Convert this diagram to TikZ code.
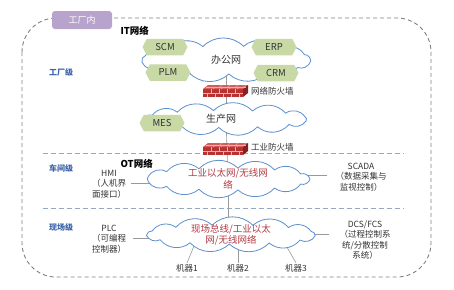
\documentclass[tikz,border=0pt]{standalone}
\usepackage{fontspec}
\setmainfont{Noto Sans CJK SC}
\usetikzlibrary{shapes.symbols,backgrounds}
\definecolor{cloudblue}{HTML}{5B8FCF}
\definecolor{hexgreen}{HTML}{C8D9A6}
\definecolor{txtgray}{HTML}{333333}
\definecolor{lvlblue}{HTML}{3D62A8}
\definecolor{dashblue}{HTML}{94A8C4}
\definecolor{bordergray}{HTML}{808080}
\definecolor{tagpurple}{HTML}{B8A3CC}
\definecolor{otred}{HTML}{B03A43}
\definecolor{fwfront}{HTML}{B83232}
\definecolor{fwtop}{HTML}{D65C5C}
\definecolor{fwside}{HTML}{8A1F1F}
\definecolor{fwmortar}{HTML}{EDB0B0}
\newcommand\drawnetcloud[5]{%
  \begin{scope}[shift={(#1,#2)}]
  \draw[cloudline] (#5:#3 and #4) \foreach \i in {1,...,13} { to[bend left=45] ({#5+\i*360/13}:#3 and #4) } -- cycle;
  \end{scope}}
\tikzset{
  cloudline/.style={draw=cloudblue, line width=0.8pt, fill=white},
  cloudtext/.style={inner sep=0pt, text=txtgray, font=\fontsize{10}{12}\selectfont, align=center},
  hexbox/.style={signal, signal to=west and east, signal pointer angle=125,
    minimum width=45pt, minimum height=16.5pt, inner sep=0pt, fill=hexgreen,
    text=txtgray, font=\fontsize{9.5}{10}\selectfont},
  desc/.style={text=txtgray, font=\fontsize{8.5}{10.5}\selectfont, align=center, inner sep=1pt},
  lvl/.style={text=lvlblue, font=\bfseries\fontsize{8}{9}\selectfont},
  netttl/.style={text=black, font=\bfseries\fontsize{9.5}{10}\selectfont},
  conn/.style={draw=gray!80, line width=0.6pt},
  leveldash/.style={draw=dashblue, line width=0.8pt, dash pattern=on 5pt off 3pt},
  firewall/.pic={
    \fill[fwfront] (-22,-4) rectangle (18,4);
    \fill[fwtop] (-22,-4) -- (-17,-8) -- (23,-8) -- (18,-4) -- cycle;
    \fill[fwside] (18,-4) -- (23,-8) -- (23,0) -- (18,4) -- cycle;
    \draw[fwmortar, line width=0.4pt] (-22,0) -- (18,0) (-19.5,-6) -- (20.5,-6);
    \foreach \x in {-14,-6,2,10} \draw[fwmortar, line width=0.4pt] (\x,-4) -- (\x,0);
    \foreach \x in {-18,-10,-2,6,14} \draw[fwmortar, line width=0.4pt] (\x,0) -- (\x,4);
    \foreach \x in {-12,-4,4,12} \draw[fwmortar, line width=0.4pt] (\x,-4) -- (\x+2.5,-6);
    \foreach \x in {-8,0,8,16} \draw[fwmortar, line width=0.4pt] (\x+2.5,-6) -- (\x+5,-8);
  }
}
\begin{document}
\begin{tikzpicture}[x=1pt,y=-1pt]
\useasboundingbox (0,0) rectangle (454,289);
% outer border
\draw[bordergray, line width=0.9pt, dash pattern=on 4pt off 3pt, rounded corners=34pt] (22,18) rectangle (431,277);
\node[fill=tagpurple, rounded corners=3pt, minimum width=60pt, minimum height=18pt, text=white,
  font=\fontsize{9}{10}\selectfont] (tag) at (82,20) {工厂内};
% level dashed lines
\draw[leveldash] (43,153) -- (404,153);
\draw[leveldash] (43,208) -- (404,208);
% titles and level labels
\node[netttl, anchor=west] (itt) at (117,31) {IT网络};
\node[netttl, anchor=west] (ott) at (117,164) {OT网络};
\node[lvl] (l1) at (61,72) {工厂级};
\node[lvl] (l2) at (61,168) {车间级};
\node[lvl] (l3) at (61,227) {现场级};
% clouds
\drawnetcloud{226}{60}{85}{14}{5}
\drawnetcloud{226}{119}{82}{8.5}{12}
\drawnetcloud{228}{179}{82}{11}{0}
\drawnetcloud{231}{234.5}{85}{9.5}{8}
\node[cloudtext, minimum width=170pt, minimum height=28pt] (office) at (226,60) {办公网};
\node[cloudtext, minimum width=164pt, minimum height=17pt] (prod) at (226,119) {\hspace*{-10pt}生产网};
\node[cloudtext, minimum width=164pt, minimum height=22pt, text=otred,
  font=\fontsize{9.5}{12}\selectfont] (ot) at (228,179) {工业以太网/无线网\\络};
\node[cloudtext, minimum width=170pt, minimum height=19pt, text=otred,
  font=\fontsize{9.5}{11}\selectfont] (field) at (231,234.5) {现场总线/工业以太\\网/无线网络};
% firewalls
\pic at (225,93) {firewall};
\pic at (225,151) {firewall};
\node[desc, anchor=west, font=\fontsize{8.5}{10}\selectfont] (fw1) at (250,91) {网络防火墙};
\node[desc, anchor=west, fill=white, font=\fontsize{8.5}{10}\selectfont] (fw2) at (250,147) {工业防火墙};
% hexagons
\node[hexbox] (scm) at (165,47) {SCM};
\node[hexbox] (plm) at (168,72.5) {PLM};
\node[hexbox] (erp) at (274,47) {ERP};
\node[hexbox] (crm) at (276,73) {CRM};
\node[hexbox] (mes) at (162,123) {MES};
% side descriptions
\node[desc] (hmi) at (109,184) {HMI\\（人机界\\面接口）};
\node[desc] (scada) at (361,177) {SCADA\\（数据采集与\\监视控制）};
\node[desc] (plc) at (109,239) {PLC\\（可编程\\控制器）};
\node[desc] (dcs) at (365,240) {DCS/FCS\\（过程控制系\\统/分散控制\\系统）};
\coordinate (hmiend) at (131,183);
\coordinate (scadaend) at (327,175);
\coordinate (plcend) at (133,238);
\coordinate (dcsend) at (329,234);
% machines
\node[desc] (m1) at (187,268) {机器1};
\node[desc] (m2) at (238,268) {机器2};
\node[desc] (m3) at (296,268) {机器3};
\coordinate (f1) at (194,246);
\coordinate (f2) at (238,244);
\coordinate (f3) at (284,242);
% connectors behind the clouds
\begin{scope}[on background layer]
\draw[conn] (office.center) -- (prod.center);
\draw[conn] (prod.center) -- (ot.center);
\draw[conn] (ot.center) -- (ot.center |- field.center);
\draw[conn] (hmiend) -- (hmiend -| ot.center);
\draw[conn] (scadaend) -- (scadaend -| ot.center);
\draw[conn] (plcend) -- (plcend -| field.center);
\draw[conn] (dcsend) -- (dcsend -| field.center);
\draw[conn] (f1) -- (m1.north);
\draw[conn] (f2) -- (m2.north);
\draw[conn] (f3) -- (m3.north);
\end{scope}
\end{tikzpicture}
\end{document}
